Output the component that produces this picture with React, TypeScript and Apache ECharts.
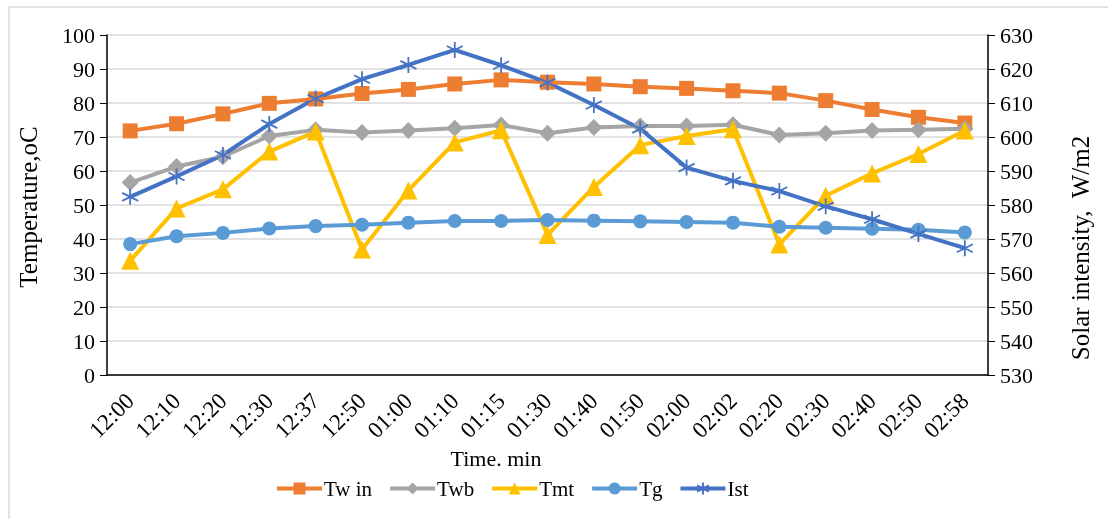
import React, { useEffect, useRef } from "react";
import * as echarts from "echarts";

const categories = ["12:00","12:10","12:20","12:30","12:37","12:50","01:00","01:10","01:15","01:30","01:40","01:50","02:00","02:02","02:20","02:30","02:40","02:50","02:58"];
const twIn = [71.8,73.9,76.8,79.9,81.2,82.8,84.0,85.6,86.8,86.1,85.6,84.8,84.3,83.6,82.9,80.7,78.1,75.8,74.1];
const twb = [56.6,61.3,64.2,70.3,72.1,71.3,71.9,72.6,73.5,71.1,72.8,73.2,73.2,73.6,70.6,71.1,71.9,72.1,72.4];
const tmt = [33.6,49.0,54.6,65.7,71.6,36.9,54.3,68.4,72.0,41.2,55.3,67.6,70.3,72.3,38.4,52.7,59.3,65.0,71.9];
const tg = [38.5,40.8,41.8,43.1,43.8,44.2,44.8,45.3,45.3,45.6,45.4,45.2,45.0,44.8,43.6,43.3,43.0,42.7,41.9];
const ist = [582.4,588.4,594.7,603.8,611.3,617.0,621.2,625.6,621.1,616.0,609.4,602.4,591.0,587.1,584.1,579.6,575.8,571.5,567.3];
const leftTicks = { min: 0, max: 100, interval: 10 };
const rightTicks = { min: 530, max: 630, interval: 10 };

const FONT = "Liberation Serif";
const ASTERISK = "path://M5,0L5,10M0.7,2.5L9.3,7.5M0.7,7.5L9.3,2.5";

export default function App() {
  const ref = useRef<HTMLDivElement>(null);
  useEffect(() => {
    document.body.style.margin = "0";
    const chart = echarts.init(ref.current!, null, { renderer: "svg" });
    const lineSeries = (name: string, data: number[], color: string, symbol: string, size: number, yIndex = 0, extra: any = {}) => ({
      name,
      type: "line",
      data,
      yAxisIndex: yIndex,
      symbol,
      symbolSize: size,
      lineStyle: { color, width: 4 },
      itemStyle: { color, ...(extra.itemStyle || {}) },
      z: extra.z || 2,
    });
    chart.setOption({
      animation: false,
      textStyle: { fontFamily: FONT },
      grid: { left: 107, right: 120, top: 35, bottom: 144 },
      legend: {
        left: 275,
        top: 478,
        padding: 0,
        itemWidth: 45,
        itemHeight: 15,
        itemGap: 16,
        lineStyle: { width: 4 },
        textStyle: { fontFamily: FONT, fontSize: 21, color: "#000", padding: [0, 0, 0, -3] },
        data: ["Tw in", "Twb", "Tmt", "Tg", "Ist"],
      },
      xAxis: {
        type: "category",
        data: categories,
        boundaryGap: true,
        axisLine: { lineStyle: { color: "#000", width: 1.5 } },
        axisTick: { show: false },
        axisLabel: { rotate: 45, fontSize: 23, color: "#000", fontFamily: FONT, margin: 22, interval: 0 },
      },
      yAxis: [
        {
          type: "value",
          ...leftTicks,
          axisLine: { show: true, lineStyle: { color: "#000", width: 1.5 } },
          axisTick: { show: true, length: 7, lineStyle: { color: "#000" } },
          axisLabel: { fontSize: 22, color: "#000", fontFamily: FONT, margin: 12 },
          splitLine: { lineStyle: { color: "#D9D9D9", width: 1.5 } },
        },
        {
          type: "value",
          ...rightTicks,
          position: "right",
          axisLine: { show: true, lineStyle: { color: "#000", width: 1.5 } },
          axisTick: { show: true, length: 7, lineStyle: { color: "#000" } },
          axisLabel: { fontSize: 22, color: "#000", fontFamily: FONT, margin: 12 },
          splitLine: { show: false },
        },
      ],
      graphic: [
        { type: "rect", shape: { x: 9, y: 7, width: 1200, height: 600 }, style: { fill: "none", stroke: "#D9D9D9", lineWidth: 1.5 }, silent: true },
        { type: "text", x: 28, y: 207, rotation: Math.PI / 2, style: { text: "Temperature,oC", fontFamily: FONT, fontSize: 25, fill: "#000", align: "center", verticalAlign: "middle" } },
        { type: "text", x: 1080, y: 248, rotation: Math.PI / 2, style: { text: "Solar intensity,  W/m2", fontFamily: FONT, fontSize: 25, fill: "#000", align: "center", verticalAlign: "middle" } },
        { type: "text", x: 496, y: 458, style: { text: "Time. min", fontFamily: FONT, fontSize: 22, fill: "#000", align: "center", verticalAlign: "middle" } },
      ],
      series: [
        lineSeries("Tw in", twIn, "#ED7D31", "rect", 15),
        lineSeries("Twb", twb, "#A5A5A5", "diamond", 17),
        lineSeries("Tmt", tmt, "#FFC000", "triangle", 18),
        lineSeries("Tg", tg, "#5B9BD5", "circle", 14),
        lineSeries("Ist", ist, "#4472C4", ASTERISK, 16, 1, { itemStyle: { borderColor: "#4472C4", borderWidth: 1.8 } }),
      ],
    });
    return () => chart.dispose();
  }, []);
  return <div ref={ref} style={{ position: "fixed", left: 0, top: 0, width: 1108, height: 519 }} />;
}
